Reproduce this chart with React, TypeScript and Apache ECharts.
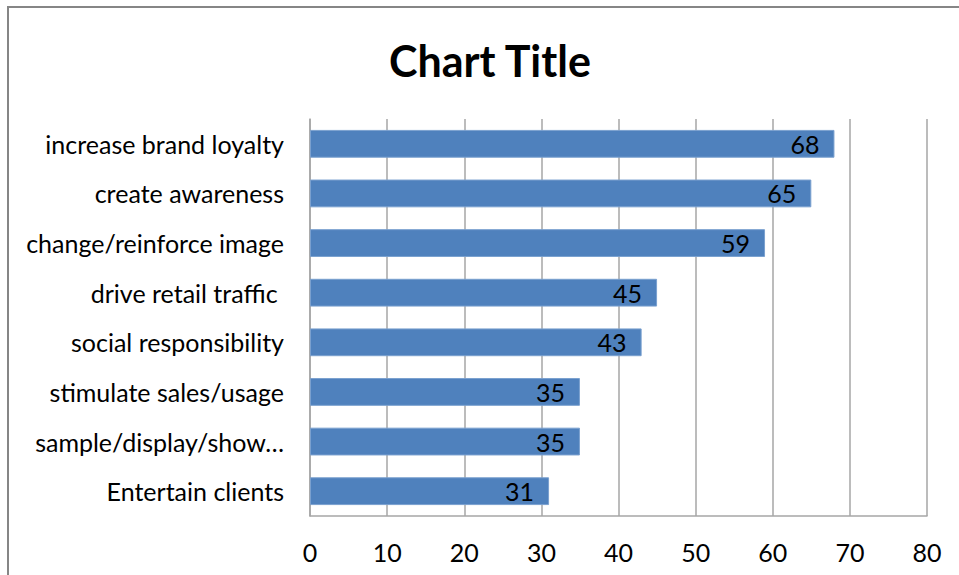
import React, { useEffect, useRef } from "react";
import * as echarts from "echarts";

const categories = [
  "increase brand loyalty",
  "create awareness",
  "change/reinforce image",
  "drive retail traffic ",
  "social responsibility",
  "stimulate sales/usage",
  "sample/display/show\u2026",
  "Entertain clients",
];
const values = [68, 65, 59, 45, 43, 35, 35, 31];
const xTicks = { min: 0, max: 80, interval: 10 };
const titleText = "Chart Title";

const FONT = "Lato, 'Open Sans', sans-serif";

export default function App() {
  const ref = useRef<HTMLDivElement>(null);
  useEffect(() => {
    if (!ref.current) return;
    const chart = echarts.init(ref.current, undefined, { renderer: "svg" });
    chart.setOption({
      animation: false,
      backgroundColor: "#ffffff",
      textStyle: { fontFamily: FONT },
      title: {
        text: titleText,
        left: 485,
        top: 34,
        textAlign: "center",
        textStyle: { fontFamily: FONT, fontSize: 43, fontWeight: "bold", color: "#000" },
      },
      graphic: [
        {
          type: "rect",
          shape: { x: 8, y: 7, width: 1000, height: 600 },
          style: { fill: "none", stroke: "#868686", lineWidth: 2 },
          silent: true,
        },
      ],
      grid: { left: 310, right: 32, top: 119, bottom: 59 },
      xAxis: {
        type: "value",
        min: xTicks.min,
        max: xTicks.max,
        interval: xTicks.interval,
        axisLine: { show: true, lineStyle: { color: "#a6a6a6", width: 1.5 } },
        axisTick: { show: false },
        splitLine: { show: true, lineStyle: { color: "#a6a6a6", width: 1.5 } },
        axisLabel: { fontFamily: FONT, fontSize: 25, color: "#000", margin: 23 },
      },
      yAxis: {
        type: "category",
        data: categories,
        inverse: true,
        axisLine: { show: true, lineStyle: { color: "#a6a6a6", width: 1.5 } },
        axisTick: { show: false },
        splitLine: { show: false },
        axisLabel: {
          fontFamily: FONT,
          fontSize: 25,
          color: "#000",
          margin: 26,
          padding: [0, 0, 4, 0],
        },
      },
      series: [
        {
          type: "bar",
          data: values,
          barWidth: "56%",
          itemStyle: { color: "#4f81bd", borderColor: "#7aa0cf", borderWidth: 1 },
          label: {
            show: true,
            position: "insideRight",
            distance: 15,
            fontFamily: FONT,
            fontSize: 25,
            color: "#000",
            padding: [0, 0, 4, 0],
          },
        },
      ],
    });
    return () => chart.dispose();
  }, []);
  return (
    <div
      ref={ref}
      style={{ position: "fixed", left: 0, top: 0, width: 959, height: 575 }}
    />
  );
}
